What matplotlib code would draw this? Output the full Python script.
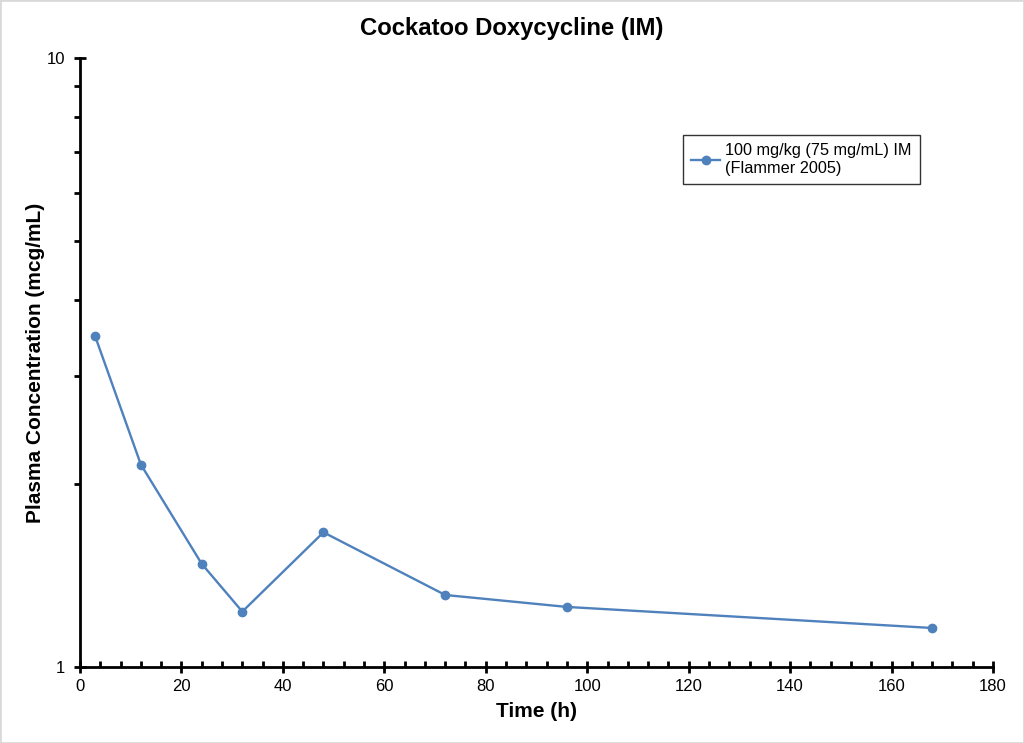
import matplotlib
matplotlib.use("Agg")
import matplotlib.pyplot as plt
from matplotlib.ticker import MultipleLocator, FixedLocator, NullFormatter, FixedFormatter
from matplotlib.patches import Rectangle

plt.rcParams['font.family'] = ['Liberation Sans', 'DejaVu Sans']

time_h = [3, 12, 24, 32, 48, 72, 96, 168]
conc = [3.49, 2.15, 1.477, 1.233, 1.664, 1.313, 1.255, 1.159]
series_label = "100 mg/kg (75 mg/mL) IM\n(Flammer 2005)"
title = "Cockatoo Doxycycline (IM)"
xlabel = "Time (h)"
ylabel = "Plasma Concentration (mcg/mL)"
color = "#4f81bd"

fig = plt.figure(figsize=(10.24, 7.43), dpi=100)
ax = fig.add_axes([80/1024, 1-667/743, 913/1024, 609/743])

ax.plot(time_h, conc, color=color, lw=1.7, marker='o', ms=6, label=series_label)

ax.set_yscale('log')
ax.set_xlim(0, 180)
ax.set_ylim(1, 10)
ax.xaxis.set_major_locator(MultipleLocator(20))
ax.xaxis.set_minor_locator(MultipleLocator(4))
ax.yaxis.set_major_locator(FixedLocator([1, 10]))
ax.yaxis.set_major_formatter(FixedFormatter(['1', '10']))
ax.yaxis.set_minor_locator(FixedLocator([2, 3, 4, 5, 6, 7, 8, 9]))
ax.yaxis.set_minor_formatter(NullFormatter())

for s in ['top', 'right']:
    ax.spines[s].set_visible(False)
for s in ['left', 'bottom']:
    ax.spines[s].set_linewidth(2)
    ax.spines[s].set_color('black')

ax.tick_params(axis='both', which='major', direction='inout', length=9, width=2, labelsize=12, colors='black')
ax.tick_params(axis='x', which='minor', direction='in', length=4, width=2)
ax.tick_params(axis='y', which='minor', direction='out', length=4, width=2)
ax.tick_params(axis='x', which='major', pad=4)
ax.tick_params(axis='y', which='major', pad=6)

fig.text(0.5, 1 - 28/743, title, fontsize=17.2, fontweight='bold', ha='center', va='center')
ax.set_xlabel(xlabel, fontsize=15, fontweight='bold', labelpad=6)
ax.set_ylabel(ylabel, fontsize=15, fontweight='bold', labelpad=1.5)

leg = ax.legend(loc='upper left', bbox_to_anchor=(0.6605, 0.8736), borderaxespad=0,
                fontsize=11.7, frameon=True, fancybox=False, edgecolor='black',
                handlelength=1.8, borderpad=0.5, handletextpad=0.3)
leg.get_frame().set_linewidth(1)

fig.patches.append(Rectangle((0, 0), 1, 1, transform=fig.transFigure, fill=False,
                             edgecolor='#d9d9d9', lw=2))

fig.savefig('out.png', dpi=100)
